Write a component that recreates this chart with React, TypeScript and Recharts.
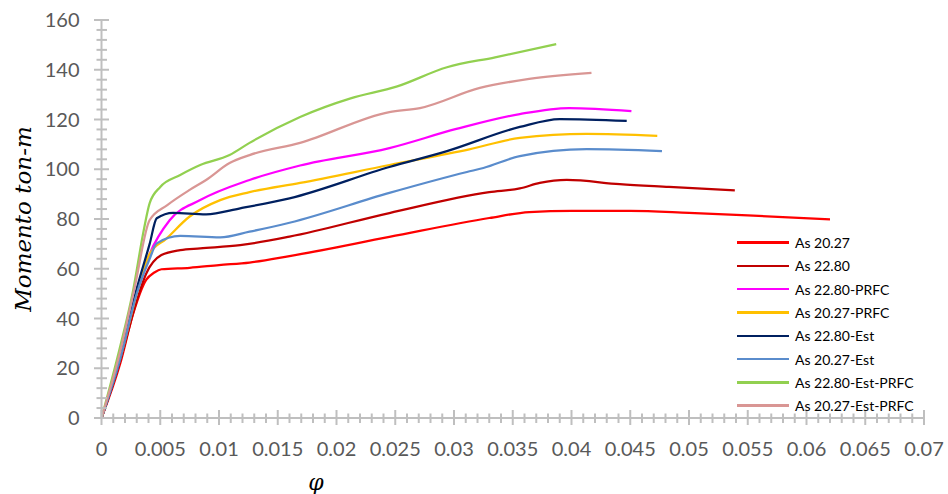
import React from 'react';
import { LineChart, Line, XAxis, YAxis, Legend } from 'recharts';

// curvature (phi) and moment (ton-m), per series
const phiAs2027 = [0, 0.0016, 0.0027, 0.0038, 0.0045, 0.0051, 0.0075, 0.01, 0.0126, 0.016, 0.0245, 0.033, 0.0364, 0.04, 0.045, 0.05, 0.055, 0.062];
const momAs2027 = [0, 22, 42, 55.5, 58.5, 59.8, 60.4, 61.5, 62.5, 65.1, 72.8, 80.4, 82.8, 83.3, 83.3, 82.5, 81.5, 79.8];

const phiAs2280 = [0, 0.0016, 0.0028, 0.0038, 0.0051, 0.0067, 0.0084, 0.0118, 0.016, 0.0245, 0.033, 0.0356, 0.0373, 0.0396, 0.0441, 0.0483, 0.0539];
const momAs2280 = [0, 23, 44, 58, 65.5, 67.5, 68.2, 69.5, 72.9, 82.4, 90.8, 92.3, 94.5, 95.7, 94, 92.9, 91.5];

const phiAs2280Prfc = [0, 0.0016, 0.003, 0.0041, 0.0058, 0.0084, 0.0126, 0.0169, 0.0245, 0.0302, 0.0356, 0.0398, 0.0451];
const momAs2280Prfc = [0, 24, 51, 66, 79.5, 87.6, 95.7, 101.5, 108.5, 116.2, 122.2, 124.6, 123.4];

const phiAs2027Prfc = [0, 0.0016, 0.003, 0.0041, 0.0055, 0.0075, 0.0101, 0.0126, 0.0169, 0.0245, 0.0313, 0.0356, 0.0413, 0.0473];
const momAs2027Prfc = [0, 24, 50, 66, 72, 81, 87.6, 90.8, 94.5, 101.7, 108, 112.6, 114.2, 113.4];

const phiAs2280Est = [0, 0.0016, 0.003, 0.0041, 0.0047, 0.0061, 0.0089, 0.0118, 0.016, 0.0245, 0.0294, 0.0356, 0.039, 0.0447];
const momAs2280Est = [0, 24, 52, 70, 80.3, 82.5, 81.9, 84.3, 88.3, 100.9, 107.3, 117, 120.2, 119.4];

const phiAs2027Est = [0, 0.0016, 0.003, 0.0041, 0.0047, 0.0067, 0.0101, 0.0126, 0.016, 0.0245, 0.0311, 0.0325, 0.0356, 0.0413, 0.0477];
const momAs2027Est = [0, 24, 50, 64, 70.2, 73.2, 72.6, 74.9, 78.5, 90.5, 98.9, 100.5, 105.3, 108.1, 107.3];

const phiAs2280EstPrfc = [0, 0.0015, 0.0027, 0.0036, 0.0041, 0.005, 0.0067, 0.0084, 0.0109, 0.0126, 0.0169, 0.0212, 0.0251, 0.0294, 0.0335, 0.0387];
const momAs2280EstPrfc = [0, 27, 51.5, 75.6, 86.4, 92.9, 97.7, 101.7, 105.7, 110.6, 121, 128.5, 133.2, 141, 145, 150.3];

const phiAs2027EstPrfc = [0, 0.0015, 0.0028, 0.0041, 0.0056, 0.0075, 0.0089, 0.0109, 0.0126, 0.0169, 0.0245, 0.0271, 0.0322, 0.0364, 0.0417];
const momAs2027EstPrfc = [0, 25, 52, 79.6, 85.6, 91.7, 95.7, 102.5, 105.7, 110.6, 123, 124.6, 132.7, 136.3, 138.7];

const xMajorTicks = [0, 0.005, 0.01, 0.015, 0.02, 0.025, 0.03, 0.035, 0.04, 0.045, 0.05, 0.055, 0.06, 0.065, 0.07];
const yMajorTicks = [0, 20, 40, 60, 80, 100, 120, 140, 160];

const toPoints = (phi: number[], mom: number[]) => phi.map((p, i) => ({ phi: p, m: mom[i] }));

// minor tick marks: 5 steps between each pair of labelled ticks
const subdivide = (majors: number[], parts: number) => {
  const out: number[] = [];
  for (let i = 0; i < majors.length - 1; i++) {
    for (let k = 0; k < parts; k++) {
      out.push(Math.round((majors[i] + ((majors[i + 1] - majors[i]) * k) / parts) * 1e6) / 1e6);
    }
  }
  out.push(majors[majors.length - 1]);
  return out;
};

const xTicks = subdivide(xMajorTicks, 5);
const yTicks = subdivide(yMajorTicks, 5);

const series = [
  { key: 'a', name: 'As 20.27', color: '#ff0000', data: toPoints(phiAs2027, momAs2027) },
  { key: 'b', name: 'As 22.80', color: '#c00000', data: toPoints(phiAs2280, momAs2280) },
  { key: 'c', name: 'As 22.80-PRFC', color: '#ff00ff', data: toPoints(phiAs2280Prfc, momAs2280Prfc) },
  { key: 'd', name: 'As 20.27-PRFC', color: '#ffc000', data: toPoints(phiAs2027Prfc, momAs2027Prfc) },
  { key: 'e', name: 'As 22.80-Est', color: '#002060', data: toPoints(phiAs2280Est, momAs2280Est) },
  { key: 'f', name: 'As 20.27-Est', color: '#5a8ccc', data: toPoints(phiAs2027Est, momAs2027Est) },
  { key: 'g', name: 'As 22.80-Est-PRFC', color: '#92d050', data: toPoints(phiAs2280EstPrfc, momAs2280EstPrfc) },
  { key: 'h', name: 'As 20.27-Est-PRFC', color: '#d99694', data: toPoints(phiAs2027EstPrfc, momAs2027EstPrfc) },
];

const AXIS = '#bfbfbf';
const LABEL = '#595959';
const FONT = 'Lato, "Open Sans", sans-serif';

const isMajor = (v: number, majors: number[]) => majors.some((t) => Math.abs(t - v) < 1e-9);

const XTick = (props: any) => {
  const { x, y, payload } = props;
  const major = isMajor(payload.value, xMajorTicks);
  return (
    <g>
      <line x1={x} x2={x} y1={y - (major ? 8 : 4.5)} y2={y + (major ? 7 : 5)} stroke={AXIS} strokeWidth={2} />
      {major && (
        <text x={x} y={y + 38} textAnchor="middle" fill={LABEL} fontSize={20} fontFamily={FONT}>
          {String(Number(payload.value.toFixed(3)))}
        </text>
      )}
    </g>
  );
};

const YTick = (props: any) => {
  const { x, y, payload } = props;
  const major = isMajor(payload.value, yMajorTicks);
  return (
    <g>
      <line x1={x - (major ? 7.5 : 5)} x2={x + (major ? 7.5 : 5.5)} y1={y} y2={y} stroke={AXIS} strokeWidth={2} />
      {major && (
        <text x={x - 22} y={y + 7} textAnchor="end" fill={LABEL} fontSize={20} fontFamily={FONT}>
          {payload.value}
        </text>
      )}
    </g>
  );
};

const renderYTitle = () => (
  <text
    x={23}
    y={219}
    transform="rotate(-90 23 219)"
    textAnchor="middle"
    dominantBaseline="central"
    fontSize={23}
    fontStyle="italic"
    fontFamily='"DejaVu Serif", serif'
    fill="#000"
  >
    Momento ton-m
  </text>
);

const renderXTitle = () => (
  <text x={316} y={490} textAnchor="middle" fontSize={22} fontStyle="italic" fontFamily='"DejaVu Serif", serif' fill="#000">
    φ
  </text>
);

const renderLegend = () => (
  <div style={{ fontFamily: FONT, fontSize: 14, color: '#000' }}>
    {series.map((s) => (
      <div key={s.key} style={{ display: 'flex', alignItems: 'center', height: 23.3 }}>
        <span style={{ display: 'inline-block', width: 52, height: 2.5, background: s.color, marginRight: 6 }} />
        <span>{s.name}</span>
      </div>
    ))}
  </div>
);

export default function App() {
  return (
    <div style={{ position: 'absolute', left: 0, top: 0, width: 948, height: 494, background: '#fff' }}>
      <LineChart width={948} height={494} margin={{ top: 20, right: 24, bottom: 0, left: 41.5 }}>
        <XAxis
          type="number"
          dataKey="phi"
          domain={[0, 0.07]}
          ticks={xTicks}
          interval={0}
          tick={<XTick />}
          tickSize={0}
          tickMargin={0}
          tickLine={false}
          axisLine={{ stroke: AXIS, strokeWidth: 2 }}
          height={76}
          allowDataOverflow
          label={renderXTitle}
        />
        <YAxis
          type="number"
          domain={[0, 160]}
          ticks={yTicks}
          interval={0}
          tick={<YTick />}
          tickSize={0}
          tickMargin={0}
          tickLine={false}
          axisLine={{ stroke: AXIS, strokeWidth: 2 }}
          width={60}
          allowDataOverflow
          label={renderYTitle}
        />
        <Legend
          layout="horizontal"
          verticalAlign="middle"
          align="center"
          content={renderLegend}
          wrapperStyle={{ left: 737, top: 231, width: 200 }}
        />
        {series.map((s) => (
          <Line
            key={s.key}
            data={s.data}
            dataKey="m"
            name={s.name}
            type="monotone"
            stroke={s.color}
            strokeWidth={2.25}
            dot={false}
            activeDot={false}
            isAnimationActive={false}
          />
        ))}
      </LineChart>
    </div>
  );
}
